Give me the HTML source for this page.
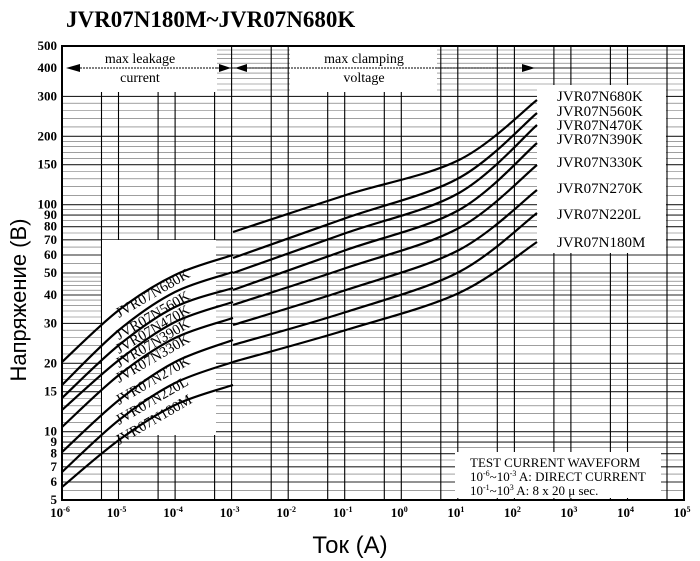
<!DOCTYPE html>
<html><head><meta charset="utf-8"><style>
body{margin:0;background:#fff;width:700px;height:561px;overflow:hidden}
svg{display:block}
.t{font-family:"Liberation Serif",serif;font-weight:bold;font-size:13px;fill:#000}
.s{font-family:"Liberation Serif",serif;font-size:13px;fill:#000}
.c{font-family:"Liberation Serif",serif;font-size:15px;fill:#000}
.l{font-family:"Liberation Serif",serif;font-size:14.5px;fill:#000}
.w{font-family:"Liberation Serif",serif;font-size:14px;fill:#000}
</style></head><body>
<svg id="g" width="700" height="561" xmlns="http://www.w3.org/2000/svg">
<text x="66" y="27" font-family="Liberation Serif,serif" font-weight="bold" font-size="23">JVR07N180M~JVR07N680K</text>
<text transform="translate(26,300) rotate(-90)" text-anchor="middle" font-family="Liberation Sans,sans-serif" font-size="22">Напряжение (В)</text>
<text x="350" y="553" text-anchor="middle" font-family="Liberation Sans,sans-serif" font-size="24">Ток (А)</text>
</svg>
<script>
const L=62,R=684,T=46,B=500,dx=(R-L)/11,dy=(B-T)/2;
const X=l=>L+(l+6)*dx, Y=v=>B-(Math.log10(v)-Math.log10(5))*dy;
let s='';
let hv=[];
for(const d of [1,10,100]){for(let v=1;v<2;v+=0.1)hv.push(v*d);for(let v=2;v<5;v+=0.2)hv.push(v*d);for(let v=5;v<10;v+=0.5)hv.push(v*d);}
hv=hv.filter(v=>v>5.01&&v<499);
const major=[6,7,8,9,10,15,20,30,40,50,60,70,80,90,100,150,200,300,400];
for(const v of hv){const y=Y(v).toFixed(1);const m=major.some(a=>Math.abs(a-v)<0.01);s+=`<line x1="${L}" x2="${R}" y1="${y}" y2="${y}" stroke="#000" stroke-width="${m?1.1:0.6}" opacity="${m?0.85:0.6}"/>`;}
for(let d=-6;d<5;d++){for(const f of [1,5]){const x=X(d+Math.log10(f)).toFixed(1);if(f==1&&d==-6)continue;s+=`<line x1="${x}" x2="${x}" y1="${T}" y2="${B}" stroke="#000" stroke-width="1.1"/>`;}}
const wb=(x,y,w,h)=>s+=`<rect x="${x}" y="${y}" width="${w}" height="${h}" fill="#fff"/>`;
wb(L+1,T+1,154,45);wb(290,T+1,147,45);wb(102,240,114,195);wb(537,85,129,168);wb(455,452,206,46);
s+=`<rect x="${L}" y="${T}" width="${R-L}" height="${B-T}" fill="none" stroke="#000" stroke-width="2"/>`;
s+=`<line x1="68" x2="216" y1="68" y2="68" stroke="#000" stroke-dasharray="2,1"/><polygon points="66,68 80,64 80,72"/>`;
s+=`<line x1="216" x2="534" y1="68" y2="68" stroke="#000" stroke-dasharray="2,1"/><polygon points="231,68 219,64 219,72"/><polygon points="235,68 247,64 247,72"/><polygon points="535,68 522,64 522,72"/>`;
s+=`<text class="w" x="140" y="63" text-anchor="middle">max leakage</text><text class="w" x="140" y="82" text-anchor="middle">current</text>`;
s+=`<text class="w" x="364" y="63" text-anchor="middle">max clamping</text><text class="w" x="364" y="82" text-anchor="middle">voltage</text>`;
for(const v of [5,6,7,8,9,10,15,20,30,40,50,60,70,80,90,100,150,200,300,400,500])s+=`<text class="t" x="57" y="${(Y(v)+4).toFixed(1)}" text-anchor="end">${v}</text>`;
for(let d=-6;d<=5;d++)s+=`<text class="t" x="${X(d)-2}" y="517" text-anchor="middle">10<tspan font-size="8" dy="-5">${d}</tspan></text>`;
function path(p){let d=`M${p[0][0]},${p[0][1]}`;for(let i=0;i<p.length-1;i++){const p0=p[i-1]||p[i],p1=p[i],p2=p[i+1],p3=p[i+2]||p2;d+=` C${p1[0]+(p2[0]-p0[0])/6},${p1[1]+(p2[1]-p0[1])/6} ${p2[0]-(p3[0]-p1[0])/6},${p2[1]-(p3[1]-p1[1])/6} ${p2[0]},${p2[1]}`;}return `<path d="${d}" fill="none" stroke="#000" stroke-width="2.2"/>`;}
const left=[[362,310,275,255],[385,330,292,272],[398,345,307,288],[410,360,322,302],[427,375,338,318],[452,400,362,340],[472,420,383,362],[487,440,405,385]];
const right=[[232,195,160,100],[258,218,178,113],[273,233,193,125],[290,250,210,143],[305,268,228,165],[325,290,250,190],[345,312,272,213],[362,330,293,242]];
const lx=[62,119,175,233],rx=[233,346,459,537];
for(const c of left)s+=path(c.map((y,i)=>[lx[i],y]));
for(const c of right)s+=path(c.map((y,i)=>[rx[i],y]));
const names=["JVR07N680K","JVR07N560K","JVR07N470K","JVR07N390K","JVR07N330K","JVR07N270K","JVR07N220L","JVR07N180M"];
const ry=[101,116,130,144,167,193,219,247];
names.forEach((n,i)=>s+=`<text class="c" x="557" y="${ry[i]}">${n}</text>`);
const ly=[318,340,354,368,383,405,425,445];
names.forEach((n,i)=>s+=`<text class="l" transform="translate(119,${ly[i]}) rotate(-30)">${n}</text>`);
s+=`<text class="s" x="470" y="467">TEST CURRENT WAVEFORM</text><text class="s" x="470" y="481">10<tspan font-size="8" dy="-5">-6</tspan><tspan dy="5">~10</tspan><tspan font-size="8" dy="-5">-3</tspan><tspan dy="5"> A: DIRECT CURRENT</tspan></text><text class="s" x="470" y="495">10<tspan font-size="8" dy="-5">-1</tspan><tspan dy="5">~10</tspan><tspan font-size="8" dy="-5">3</tspan><tspan dy="5">  A: 8 x 20  μ  sec.</tspan></text>`;
document.getElementById('g').insertAdjacentHTML('beforeend',s);
</script>
</body></html>
